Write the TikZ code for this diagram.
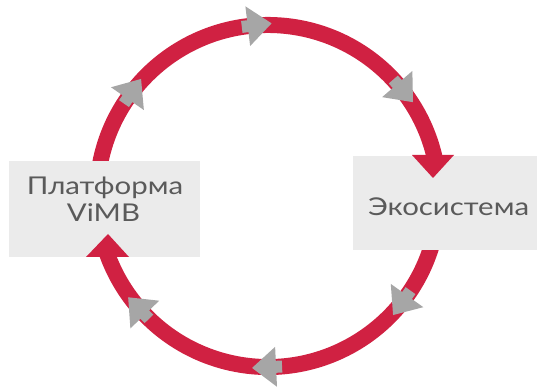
\documentclass[tikz,border=0pt]{standalone}
\usepackage{fontspec}
\newfontfamily\gfont[FakeStretch=1.2]{Lato}
\definecolor{ringred}{RGB}{208,33,66}
\definecolor{arrgray}{RGB}{166,166,166}
\definecolor{boxfill}{RGB}{235,235,235}
\definecolor{txtgray}{RGB}{90,90,90}
\tikzset{
  ring/.style={draw=ringred, line width=16pt},
  boxnode/.style={fill=boxfill, draw=none, inner sep=0pt, anchor=south west},
  txt/.style={font=\gfont\fontsize{24.5}{29}\selectfont, text=txtgray, inner sep=0pt, anchor=base},
  grayarr/.style={fill=arrgray},
  redhead/.style={fill=ringred}
}
\begin{document}
\begin{tikzpicture}[x=1pt,y=1pt]
\useasboundingbox (0,0) rectangle (537,388);
\coordinate (C) at (268,192);
% ring arcs (clockwise)
\draw[ring] (C) ++(172:171pt) arc[start angle=172, end angle=12, radius=171pt];
\draw[ring] (C) ++(-14:171pt) arc[start angle=-14, end angle=-161.2, radius=171pt];
% boxes
\node[boxnode, minimum width=191pt, minimum height=96pt] (lbox) at (9,131) {};
\node[boxnode, minimum width=185pt, minimum height=94pt] (rbox) at (353,138) {};
% red arrow heads
\fill[redhead] (412,233) -- (454,233) -- (433,210) -- cycle;
\fill[redhead] (86,131) -- (129,131) -- (108,154) -- cycle;
% gray arrows along the ring
\foreach \a in {96.8,40.9,-35.6,-87.3,-136.1,145.3}{
  \begin{scope}[shift={(C)}, rotate=\a]
    \fill[grayarr] (165,6) -- (165,0) -- (151,0) -- (171,-24) -- (191,0) -- (177,0) -- (177,6) -- cycle;
  \end{scope}
}
% texts
\node[txt] (ltext1) at (105,193) {Платформа};
\node[txt] (ltext2) at (103.5,166) {ViMB};
\node[txt] (rtext) at (448.5,172) {Экосистема};
\end{tikzpicture}
\end{document}
